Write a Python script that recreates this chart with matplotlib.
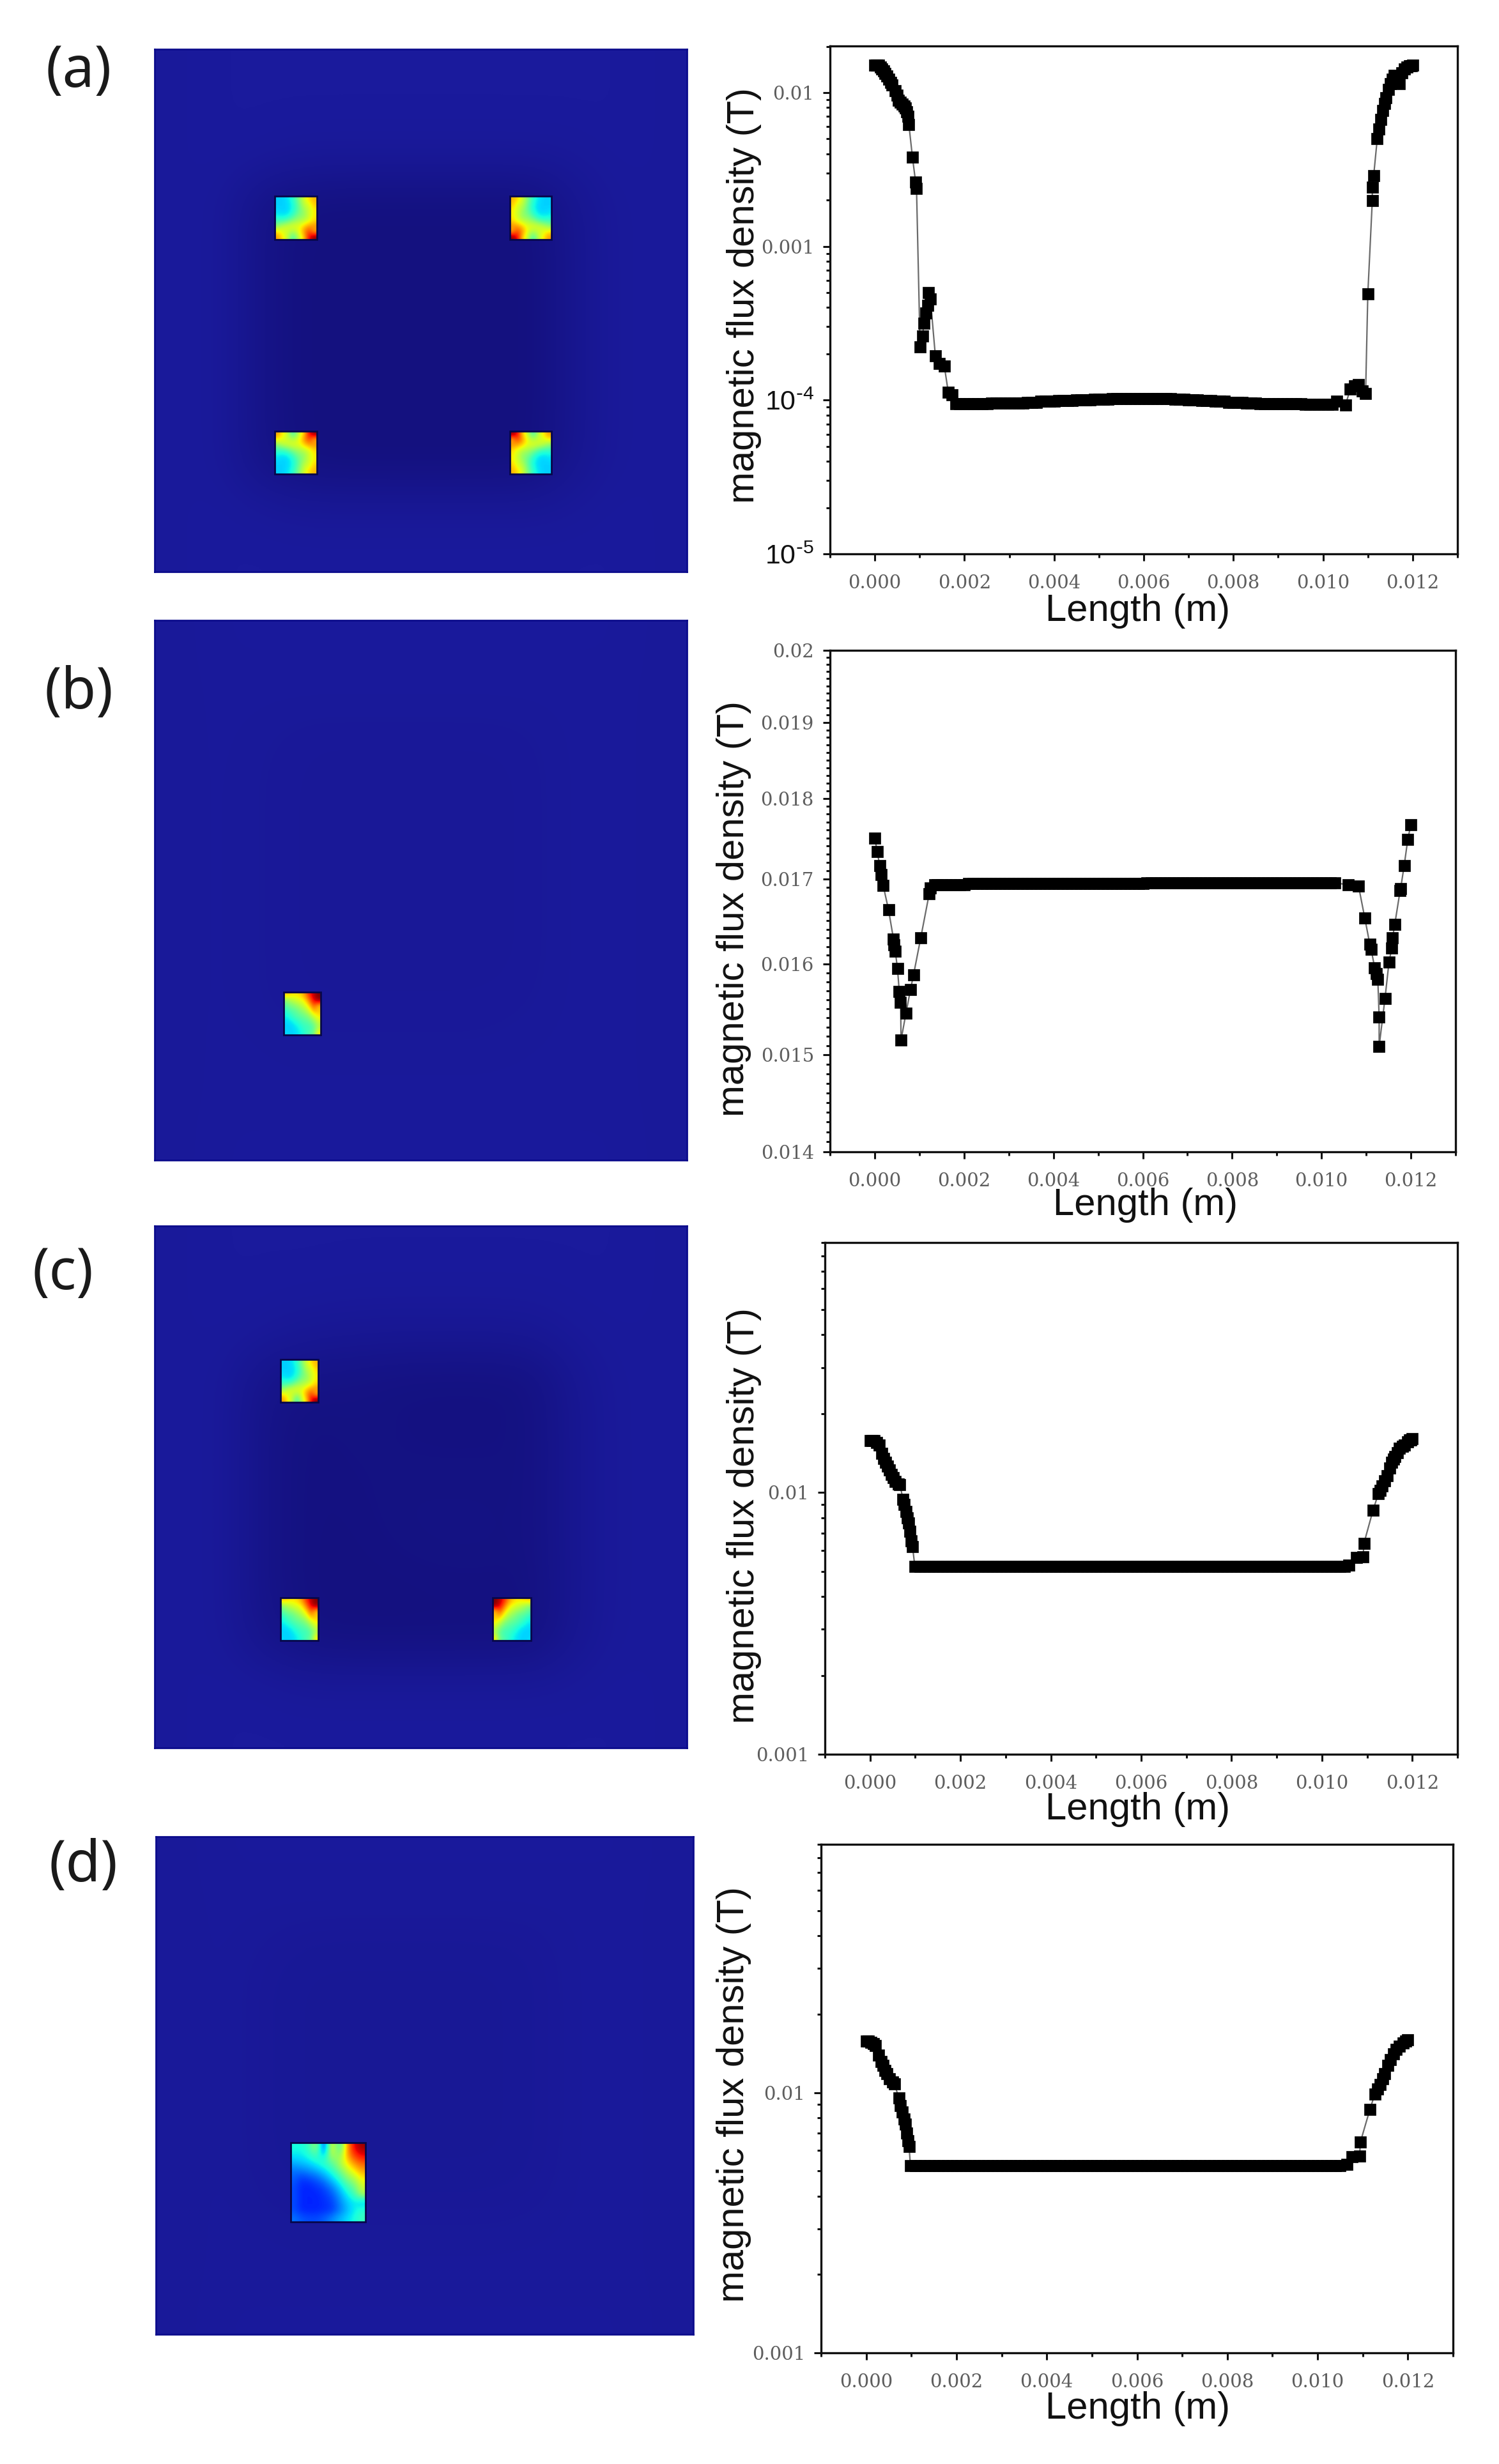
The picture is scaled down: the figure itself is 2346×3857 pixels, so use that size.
import numpy as np
import matplotlib
matplotlib.use("Agg")
import matplotlib.pyplot as plt
from matplotlib.colors import LinearSegmentedColormap
from matplotlib.patches import Rectangle
from matplotlib.ticker import NullFormatter

W, H = 2346, 3857

# ---------- line data ----------
MID_TENTHS = [11,12,13,14,15,16,17,18,19,20,21,22,23,24,25,26,27,28,29,30,31,32,33,34,35,36,37,38,39,40,
              41,42,43,44,45,46,47,48,49,50,51,52,53,54,55,56,57,58,59,60,61,62,63,64,65,66,67,68,69,70,
              71,72,73,74,75,76,77,78,79,80,81,82,83,84,85,86,87,88,89,90,91,92,93,94,95,96,97,98,99,100,
              101,102,103,104,105]

a_left_x = [0.0, 0.00004, 0.00008, 0.00012, 0.00016, 0.0002, 0.00023, 0.00027, 0.00031, 0.00035, 0.00039, 0.00045, 0.00049, 0.00053, 0.00057, 0.00061, 0.00065, 0.00068, 0.00071, 0.00074, 0.00076,
            0.00084, 0.00091, 0.00093, 0.00101, 0.00107, 0.00109, 0.00114, 0.00118, 0.0012, 0.00124, 0.00135,
            0.00144, 0.00155, 0.00164, 0.00173, 0.00181]
a_left_y = [0.0151, 0.0151, 0.0151, 0.0147, 0.0142, 0.0138, 0.01335, 0.0128, 0.01217, 0.0117, 0.01124, 0.0103, 0.0096, 0.00895, 0.0087, 0.00842, 0.0082, 0.00792, 0.0075, 0.0070, 0.00619,
            0.00379, 0.00262, 0.00239, 2.21e-4, 2.62e-4, 3.15e-4, 3.67e-4, 4.15e-4, 5.0e-4, 4.56e-4, 1.95e-4,
            1.73e-4, 1.67e-4, 1.12e-4, 1.08e-4, 9.5e-5]
a_mid_y = ([9.5e-5]*7 + [9.6e-5]*8 + [9.7e-5]*3 + [9.8e-5]*4 + [9.9e-5]*4 + [1.0e-4]*4 + [1.01e-4]*4
           + [1.02e-4]*14 + [1.01e-4]*3 + [1.0e-4]*3 + [9.9e-5]*3 + [9.8e-5]*3 + [9.7e-5]*4 + [9.6e-5]*3
           + [9.5e-5]*10 + [9.4e-5]*7)
a_right_x = [0.0103, 0.0105, 0.01061, 0.0107, 0.01079, 0.01087, 0.01095, 0.0110, 0.0111, 0.0111, 0.01113, 0.01121,
             0.01125, 0.01129, 0.01133, 0.01137, 0.01141, 0.01146, 0.0115, 0.01155, 0.01159, 0.0117, 0.01176, 0.01182, 0.01188, 0.01193, 0.01197, 0.012]
a_right_y = [9.8e-5, 9.3e-5, 1.18e-4, 1.24e-4, 1.26e-4, 1.15e-4, 1.10e-4, 4.93e-4, 0.00199, 0.00242, 0.00288, 0.0050,
             0.00582, 0.0067, 0.00768, 0.0085, 0.00923, 0.0105, 0.01145, 0.0122, 0.01294, 0.01145, 0.0135, 0.0142, 0.0146, 0.0149, 0.015, 0.0151]

b_left_x = [0.0, 0.00006, 0.00011, 0.00015, 0.00019, 0.00031, 0.00042, 0.00043, 0.00046, 0.00051, 0.00055, 0.00058,
            0.00059, 0.0007, 0.0008, 0.00087, 0.00103, 0.00122, 0.00125, 0.00134]
b_left_y = [0.0175, 0.01733, 0.01716, 0.01705, 0.01692, 0.01663, 0.01629, 0.01622, 0.01615, 0.01595, 0.01569, 0.01557,
            0.01516, 0.01545, 0.01571, 0.01588, 0.0163, 0.01682, 0.01689, 0.01693]
b_mid_y = [0.01693]*7 + [0.01694]*40 + [0.01695]*43
b_right_x = [0.0106, 0.01083, 0.01097, 0.01108, 0.01111, 0.01119, 0.01123, 0.01126, 0.01129, 0.01129, 0.01142, 0.01151,
             0.01157, 0.01159, 0.01164, 0.01176, 0.01177, 0.01185, 0.01193, 0.012]
b_right_y = [0.01693, 0.01691, 0.01653, 0.01623, 0.01617, 0.01596, 0.01589, 0.01583, 0.01541, 0.01509, 0.01561, 0.01602,
             0.01618, 0.0163, 0.01646, 0.01686, 0.01688, 0.01716, 0.01748, 0.01767]

c_left_x = [0.0, 0.00005, 0.00009, 0.00015, 0.0002, 0.00026, 0.0003, 0.00035, 0.00039, 0.00043, 0.00047, 0.00051, 0.00056,
            0.00062, 0.00066, 0.00073, 0.00076, 0.00079, 0.00082, 0.00085, 0.00088, 0.00091, 0.00094, 0.00099]
c_left_y = [0.01576, 0.01576, 0.01576, 0.0155, 0.0152, 0.0141, 0.0135, 0.01304, 0.0126, 0.01217, 0.0117, 0.01136, 0.0110,
            0.01079, 0.0107, 0.0094, 0.0090, 0.00847, 0.0080, 0.00764, 0.0071, 0.00654, 0.0062, 0.00523]
c_mid_y = [0.00523]*95
c_right_x = [0.0106, 0.01076, 0.01091, 0.01093, 0.01113, 0.01125, 0.01129, 0.01133, 0.01139, 0.01144, 0.0115, 0.01155,
             0.01158, 0.01161, 0.01167, 0.01172, 0.01178, 0.01183, 0.01189, 0.01194, 0.01197, 0.012]
c_right_y = [0.00527, 0.00564, 0.00566, 0.00639, 0.00853, 0.0099, 0.0102, 0.0106, 0.0111, 0.01156, 0.0124, 0.01304,
             0.0134, 0.01373, 0.0142, 0.01471, 0.015, 0.0152, 0.0156, 0.01587, 0.0159, 0.016]

d_left_x = [0.0, 0.00005, 0.0001, 0.00016, 0.00021, 0.00027, 0.00033, 0.00038, 0.00042, 0.00046, 0.00052, 0.00058, 0.00063,
            0.00072, 0.00076, 0.0008, 0.00084, 0.00087, 0.0009, 0.00092, 0.00095, 0.00098]
d_left_y = [0.0158, 0.0158, 0.0156, 0.0154, 0.0152, 0.0139, 0.0132, 0.0127, 0.0122, 0.0118, 0.0113, 0.0110, 0.0108,
            0.00954, 0.0089, 0.00841, 0.0079, 0.00755, 0.0070, 0.00654, 0.0062, 0.00523]
d_mid_y = [0.00523]*95
d_right_x = [0.01065, 0.01076, 0.01093, 0.01095, 0.01116, 0.01127, 0.01133, 0.01138, 0.01144, 0.01149, 0.01155, 0.01161,
             0.01168, 0.01174, 0.01181, 0.01189, 0.01195, 0.012]
d_right_y = [0.0053, 0.00566, 0.0057, 0.00647, 0.00863, 0.00989, 0.0103, 0.01075, 0.0113, 0.0118, 0.0127, 0.01343,
             0.0141, 0.0147, 0.0151, 0.0155, 0.0158, 0.0160]

x_ticks = [0.0, 0.002, 0.004, 0.006, 0.008, 0.010, 0.012]
x_tick_labels = ["0.000", "0.002", "0.004", "0.006", "0.008", "0.010", "0.012"]
a_y_ticks = [1e-5, 1e-4, 0.001, 0.01]
a_y_labels = [r"$\mathregular{10^{\text{-}5}}$", r"$\mathregular{10^{\text{-}4}}$", "0.001", "0.01"]
b_y_ticks = [0.014, 0.015, 0.016, 0.017, 0.018, 0.019, 0.02]
b_y_labels = ["0.014", "0.015", "0.016", "0.017", "0.018", "0.019", "0.02"]
cd_y_ticks = [0.001, 0.01]
cd_y_labels = ["0.001", "0.01"]

# ---------- field maps (normalised field levels) ----------
bg_a = [[.95,1,1,1,1,1,1,1,1,1,1,.95],
        [.95,1,1,1,1,1,1,1,1,1,1,.95],
        [.95,1,.95,.85,.85,.85,.85,.85,.85,.9,1,.95],
        [.95,.95,.3,.1,.05,.05,.05,.05,.05,.65,.95,.95],
        [.95,.95,.25,0,0,0,0,0,0,.6,.95,.95],
        [.95,.95,.25,0,0,0,0,0,0,.6,.95,.95],
        [.95,.95,.25,0,0,0,0,0,0,.6,.95,.95],
        [.95,.95,.25,0,0,0,0,0,0,.6,.95,.95],
        [.95,.95,.25,0,0,0,0,0,0,.6,.95,.95],
        [.95,.95,.3,.05,0,0,0,0,.05,.65,.95,.95],
        [.95,1,.9,.8,.8,.8,.8,.8,.8,.9,1,.95],
        [.95,1,1,1,1,1,1,1,1,1,1,.95]]
bg_b = [[.9,.97,.97,.97,.97,.97,.97,.97,.97,.97,.97,.9],
        [.9,.95,.95,.95,.95,.95,.95,.95,.95,.95,.95,.9],
        [.9,.95,.9,.86,.86,.86,.86,.86,.88,.95,.95,.9],
        [.9,.95,.88,.85,.85,.85,.85,.85,.86,.95,.95,.9],
        [.9,.95,.88,.85,.85,.85,.85,.85,.86,.95,.95,.9],
        [.9,.95,.88,.85,.85,.85,.85,.85,.86,.95,.95,.9],
        [.9,.95,.88,.85,.85,.85,.85,.85,.86,.95,.95,.9],
        [.9,.95,.88,.85,.85,.85,.85,.85,.86,.95,.95,.9],
        [.9,.95,.88,.86,.86,.86,.86,.86,.88,.95,.95,.9],
        [.9,.95,.93,.9,.9,.9,.9,.9,.93,.95,.95,.9],
        [.9,.95,.95,.95,.95,.95,.95,.95,.95,.95,.95,.9],
        [.9,.97,.97,.97,.97,.97,.97,.97,.97,.97,.97,.9]]
bg_c = [[.95,1,1,1,1,1,1,1,1,1,1,.95],
        [.95,1,.98,.98,.95,.95,.95,.95,.95,.98,1,.95],
        [.95,.98,.9,.75,.7,.68,.68,.68,.72,.9,.97,.95],
        [.95,.95,.4,.25,.2,.12,.1,.1,.15,.7,.95,.95],
        [.95,.95,.3,.08,.15,.1,.08,.08,.12,.65,.95,.95],
        [.95,.95,.3,.05,.12,.12,.12,.12,.12,.65,.95,.95],
        [.95,.95,.3,.05,.08,.15,.15,.15,.12,.65,.95,.95],
        [.95,.95,.3,.05,.05,.12,.15,.15,.12,.65,.95,.95],
        [.95,.95,.3,.05,.03,.03,.06,.06,.06,.65,.95,.95],
        [.95,.95,.45,.15,.08,.08,.08,.08,.12,.7,.95,.95],
        [.95,1,.95,.85,.85,.85,.85,.85,.85,.92,1,.95],
        [.95,1,1,1,1,1,1,1,1,1,1,.95]]
bg_d = [[.9,.97,.97,.97,.97,.97,.97,.97,.97,.97,.97,.9],
        [.9,.95,.95,.95,.95,.95,.95,.95,.95,.95,.95,.9],
        [.9,.95,.88,.82,.82,.82,.82,.82,.85,.95,.95,.9],
        [.9,.95,.83,.78,.78,.78,.78,.78,.82,.95,.95,.9],
        [.9,.95,.83,.78,.78,.78,.78,.78,.82,.95,.95,.9],
        [.9,.95,.83,.78,.78,.78,.78,.78,.82,.95,.95,.9],
        [.9,.95,.83,.78,.78,.78,.78,.78,.82,.95,.95,.9],
        [.9,.95,.83,.78,.78,.78,.78,.78,.82,.95,.95,.9],
        [.9,.95,.86,.82,.82,.82,.82,.82,.85,.95,.95,.9],
        [.9,.95,.93,.9,.9,.9,.9,.9,.92,.95,.95,.9],
        [.9,.95,.95,.95,.95,.95,.95,.95,.95,.95,.95,.9],
        [.9,.97,.97,.97,.97,.97,.97,.97,.97,.97,.97,.9]]

magnet_tl = [[.33,.33,.35,.40,.50,.60,.68,.72],
             [.33,.33,.34,.38,.47,.58,.62,.70],
             [.34,.33,.34,.38,.46,.54,.60,.66],
             [.36,.35,.36,.42,.50,.52,.60,.66],
             [.42,.42,.46,.52,.55,.58,.62,.68],
             [.52,.58,.60,.62,.62,.68,.74,.76],
             [.66,.62,.60,.56,.62,.74,.85,.72],
             [.75,.66,.58,.42,.58,.68,.90,1.0]]
magnet_single = [[.70,.68,.66,.68,.74,.86,.95,1.0],
                 [.52,.56,.60,.62,.66,.78,.92,.98],
                 [.46,.50,.52,.56,.60,.68,.82,.70],
                 [.40,.44,.46,.50,.54,.60,.72,.70],
                 [.36,.40,.44,.46,.48,.52,.60,.66],
                 [.34,.35,.38,.42,.44,.46,.52,.60],
                 [.33,.33,.35,.38,.42,.42,.46,.56],
                 [.34,.33,.34,.36,.40,.44,.48,.66]]
magnet_large = [[.38,.38,.42,.55,.15,.68,.38,.72,.92,.98],
                [.36,.36,.40,.44,.30,.60,.48,.72,.86,.92],
                [.30,.32,.34,.38,.42,.46,.55,.66,.76,.82],
                [.24,.25,.27,.30,.34,.40,.48,.58,.66,.74],
                [.22,.18,.20,.22,.27,.33,.40,.50,.56,.66],
                [.20,.16,.16,.18,.20,.26,.33,.42,.48,.60],
                [.20,.16,.16,.16,.18,.21,.28,.36,.42,.56],
                [.20,.16,.16,.16,.17,.19,.25,.32,.36,.32],
                [.20,.16,.16,.16,.17,.18,.24,.30,.36,.40],
                [.24,.21,.20,.20,.22,.26,.30,.34,.38,.42]]

# ---------- drawing ----------
plt.rcParams['mathtext.default'] = 'regular'
fig = plt.figure(figsize=(W / 100, H / 100), dpi=100, facecolor='white')
bg_cmap = LinearSegmentedColormap.from_list('bg', ['#14117f', '#1a1a9c'])


def axes_px(l, t, r, b):
    return fig.add_axes([l / W, 1 - b / H, (r - l) / W, (b - t) / H])


def field_panel(box, bg, magnets):
    ax = axes_px(*box)
    l, t, r, b = box
    ax.imshow(np.array(bg), cmap=bg_cmap, vmin=0, vmax=1, extent=(l, r, b, t),
              interpolation='bicubic', aspect='auto', zorder=1)
    for (ml, mt, mr, mb, grid) in magnets:
        ax.imshow(grid, cmap='jet', vmin=0, vmax=1, extent=(ml, mr, mb, mt),
                  interpolation='bicubic', aspect='auto', zorder=3)
        ax.add_patch(Rectangle((ml, mt), mr - ml, mb - mt, fill=False, ec='#07074a', lw=2.0, zorder=4))
    ax.set_xlim(l, r)
    ax.set_ylim(b, t)
    ax.set_xticks([])
    ax.set_yticks([])
    for s in ax.spines.values():
        s.set_color('#0c0c8c')
        s.set_linewidth(2)
    return ax


tl = np.array(magnet_tl)
single = np.array(magnet_single)
field_panel((242, 77, 1075, 895), bg_a, [
    (430, 307, 496, 375, tl),
    (798, 307, 863, 375, tl[:, ::-1]),
    (430, 675, 496, 742, tl[::-1, :]),
    (798, 675, 863, 742, tl[::-1, ::-1]),
])
field_panel((242, 971, 1075, 1816), bg_b, [(444, 1553, 502, 1620, single)])
field_panel((242, 1919, 1075, 2736), bg_c, [
    (439, 2128, 498, 2195, tl),
    (439, 2501, 498, 2568, single),
    (771, 2501, 831, 2568, single[:, ::-1]),
])
field_panel((244, 2875, 1085, 3654), bg_d, [(455, 3354, 572, 3478, np.array(magnet_large))])

SERIF = 'DejaVu Serif'
SANS = 'Liberation Sans'


def line_panel(box, xs, ys, ylim, yticks, ylabels, yminor, ylab_xy, xlab_xy):
    ax = axes_px(*box)
    ax.set_yscale('log')
    ax.plot(xs, ys, color='#6a6a6a', lw=1.6, marker='s', ms=13, mfc='black', mec='black', mew=0.5)
    ax.set_xlim(-0.001, 0.013)
    ax.set_ylim(*ylim)
    ax.set_xticks(x_ticks, x_tick_labels)
    ax.set_xticks(np.arange(-0.001, 0.0131, 0.002), minor=True)
    ax.set_yticks(yticks, ylabels)
    ax.set_yticks(yminor, minor=True)
    ax.yaxis.set_minor_formatter(NullFormatter())
    ax.xaxis.set_minor_formatter(NullFormatter())
    ax.tick_params(which='major', length=8, width=2.2, direction='out', color='#111111')
    ax.tick_params(which='minor', length=4.5, width=2.2, direction='out', color='#111111')
    ax.tick_params(axis='x', which='major', pad=15)
    ax.tick_params(axis='y', which='major', pad=10)
    for lab in ax.get_xticklabels():
        lab.set(fontfamily=SERIF, fontsize=21, color='#5e5e5e')
    for lab in ax.get_yticklabels():
        if lab.get_text().startswith('$'):
            lab.set(fontfamily=SANS, fontsize=31, color='#111111')
        else:
            lab.set(fontfamily=SERIF, fontsize=21, color='#5e5e5e')
    for s in ax.spines.values():
        s.set_linewidth(2.4)
        s.set_color('#111111')
    ax.set_xlabel('Length (m)', fontfamily=SANS, fontsize=43, color='#111111', va='center', ha='center')
    ax.set_ylabel('magnetic flux density (T)', fontfamily=SANS, fontsize=43, color='#111111',
                  va='center', ha='center')
    ax.xaxis.set_label_coords(xlab_xy[0] / W, 1 - xlab_xy[1] / H, transform=fig.transFigure)
    ax.yaxis.set_label_coords(ylab_xy[0] / W, 1 - ylab_xy[1] / H, transform=fig.transFigure)
    return ax


def minors(decades):
    return [m * d for d in decades for m in (2, 3, 4, 5, 6, 7, 8, 9)]


mid = [t * 1e-4 for t in MID_TENTHS]
xa = a_left_x + mid[8:92] + a_right_x
ya = a_left_y + a_mid_y + a_right_y
xb = b_left_x + mid[3:93] + b_right_x
yb = b_left_y + b_mid_y + b_right_y
xc = c_left_x + mid[:95] + c_right_x
yc = c_left_y + c_mid_y + c_right_y
xd = d_left_x + mid[:95] + d_right_x
yd = d_left_y + d_mid_y + d_right_y

line_panel((1299, 72, 2281, 867), xa, ya, (1e-5, 0.0201), a_y_ticks, a_y_labels,
           minors([1e-5, 1e-4, 1e-3]) + [0.02], (1164, 463), (1781, 957))
line_panel((1299, 1018, 2278, 1803), xb, yb, (0.014, 0.02), b_y_ticks, b_y_labels,
           list(np.arange(0.0141, 0.01995, 0.0001)), (1148, 1422), (1793, 1886))
line_panel((1291, 1945, 2281, 2746), xc, yc, (0.001, 0.09), cd_y_ticks, cd_y_labels,
           minors([1e-3, 1e-2]), (1164, 2373), (1781, 2832))
line_panel((1285, 2887, 2274, 3683), xd, yd, (0.001, 0.09), cd_y_ticks, cd_y_labels,
           minors([1e-3, 1e-2]), (1148, 3278), (1781, 3771))

for s, x, y in [('(a)', 123, 113), ('(b)', 123, 1086), ('(c)', 98, 1995), ('(d)', 130, 2922)]:
    fig.text(x / W, 1 - y / H, s, fontfamily='Noto Sans', fontsize=64,
             color='#1a1a1a', ha='center', va='center')

fig.savefig('out.png', dpi=100)
